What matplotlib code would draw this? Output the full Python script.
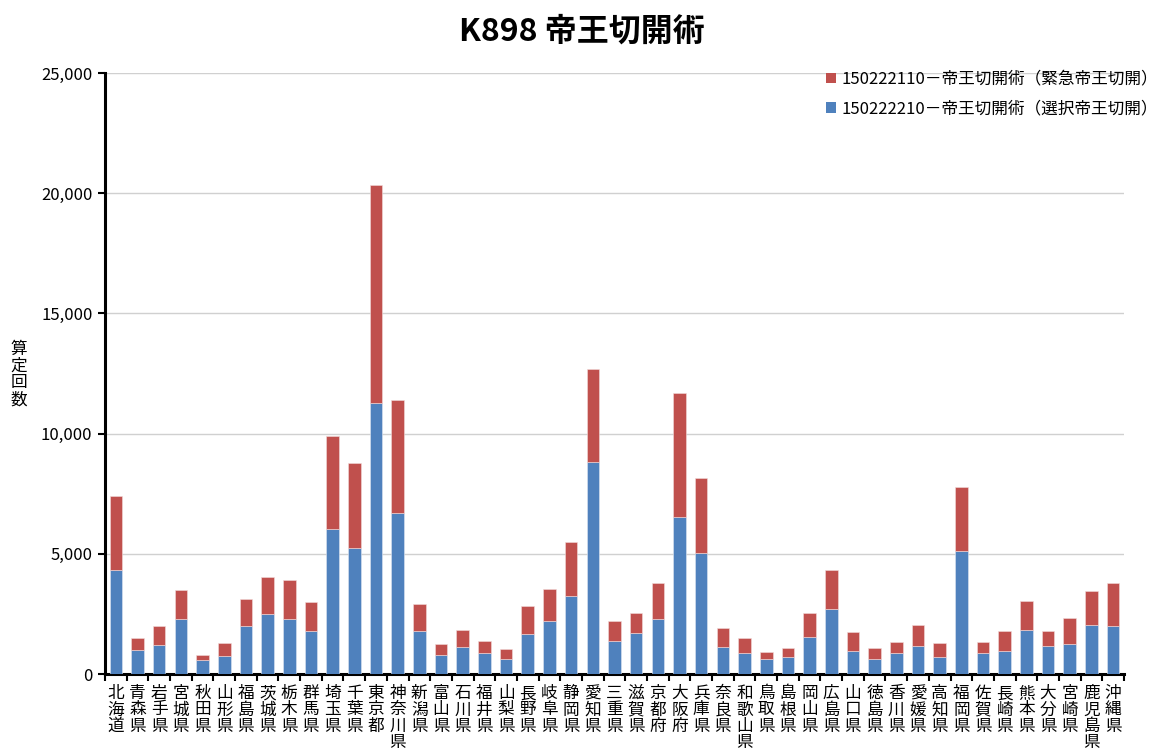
import matplotlib
matplotlib.use("Agg")
import matplotlib.pyplot as plt
from matplotlib.ticker import FuncFormatter, FixedLocator
from matplotlib.patches import Patch

plt.rcParams['font.family'] = ['Noto Sans CJK JP', 'DejaVu Sans']

prefectures = ["北海道", "青森県", "岩手県", "宮城県", "秋田県", "山形県", "福島県", "茨城県",
               "栃木県", "群馬県", "埼玉県", "千葉県", "東京都", "神奈川県", "新潟県", "富山県",
               "石川県", "福井県", "山梨県", "長野県", "岐阜県", "静岡県", "愛知県", "三重県",
               "滋賀県", "京都府", "大阪府", "兵庫県", "奈良県", "和歌山県", "鳥取県", "島根県",
               "岡山県", "広島県", "山口県", "徳島県", "香川県", "愛媛県", "高知県", "福岡県",
               "佐賀県", "長崎県", "熊本県", "大分県", "宮崎県", "鹿児島県", "沖縄県"]

# 選択帝王切開 (blue, bottom)
elective = [4330, 985, 1190, 2275, 570, 735, 1985, 2480, 2300, 1790, 6020, 5255, 11260, 6685,
            1790, 780, 1110, 860, 610, 1665, 2205, 3230, 8835, 1375, 1690, 2300, 6520, 5020,
            1110, 860, 610, 695, 1525, 2720, 970, 610, 875, 1150, 695, 5105, 875, 970, 1845,
            1150, 1250, 2025, 1985]

# 合計 (stack top)
total = [7405, 1510, 1985, 3495, 780, 1290, 3120, 4035, 3910, 2995, 9915, 8765, 20340, 11400,
         2900, 1250, 1830, 1375, 1055, 2845, 3535, 5475, 12675, 2205, 2525, 3770, 11675, 8140,
         1900, 1485, 930, 1070, 2525, 4325, 1760, 1070, 1345, 2040, 1290, 7765, 1345, 1790,
         3035, 1790, 2345, 3455, 3770]

emergency = [t - e for t, e in zip(total, elective)]

label_emg = "150222110－帝王切開術（緊急帝王切開）"
label_ele = "150222210－帝王切開術（選択帝王切開）"
title = "K898 帝王切開術"
ylabel = "算定回数"
yticks = [0, 5000, 10000, 15000, 20000, 25000]

blue = "#4F81BD"
red = "#C0504D"

fig = plt.figure(figsize=(11.64, 7.49), dpi=100)
ax = fig.add_axes([0.0902, 0.1001, 0.8754, 0.8024])

x = list(range(len(prefectures)))
w = 0.58
ax.bar(x, elective, width=w, color=blue, edgecolor="#dfe6f2", linewidth=0.4, zorder=3)
ax.bar(x, emergency, bottom=elective, width=w, color=red, edgecolor="#f2dcdb", linewidth=0.4, zorder=3)

ax.set_xlim(-0.5, len(prefectures) - 0.5)
ax.set_ylim(0, 25000)
ax.set_yticks(yticks)
ax.yaxis.set_major_formatter(FuncFormatter(lambda v, p: f"{int(v):,}"))
ax.grid(axis="y", color="#d0d0d0", linewidth=1.0, zorder=0)
ax.set_axisbelow(True)

for s in ["top", "right"]:
    ax.spines[s].set_visible(False)
ax.spines["left"].set_linewidth(2.2)
ax.spines["bottom"].set_linewidth(2.2)

ax.tick_params(axis="y", direction="out", length=5, width=1.5, labelsize=12, pad=4)

# x ticks at category boundaries, labels at centers
ax.xaxis.set_major_locator(FixedLocator([i - 0.5 for i in range(len(prefectures) + 1)]))
ax.xaxis.set_major_formatter(FuncFormatter(lambda v, p: ""))
ax.tick_params(axis="x", which="major", direction="out", length=5, width=1.5)
ax.set_xticks(x, minor=True)
ax.set_xticklabels(["\n".join(p) for p in prefectures], minor=True)
ax.tick_params(axis="x", which="minor", length=0, labelsize=12, pad=8)
for lab in ax.get_xticklabels(minor=True):
    lab.set_linespacing(0.95)
    lab.set_verticalalignment("top")

fig.text(0.5, 0.958, title, ha="center", va="center", fontsize=23, fontweight="bold")
fig.text(0.016, 0.50, "\n".join(ylabel), ha="center", va="center", fontsize=12, linespacing=1.0)

handles = [Patch(facecolor=red, edgecolor="none"), Patch(facecolor=blue, edgecolor="none")]
leg = ax.legend(handles, [label_emg, label_ele], loc="upper right", frameon=False,
                fontsize=12, handlelength=0.6, handleheight=0.6, handletextpad=0.3,
                labelspacing=0.75, bbox_to_anchor=(1.04, 1.015), borderaxespad=0)

fig.savefig("out.png", dpi=100)
